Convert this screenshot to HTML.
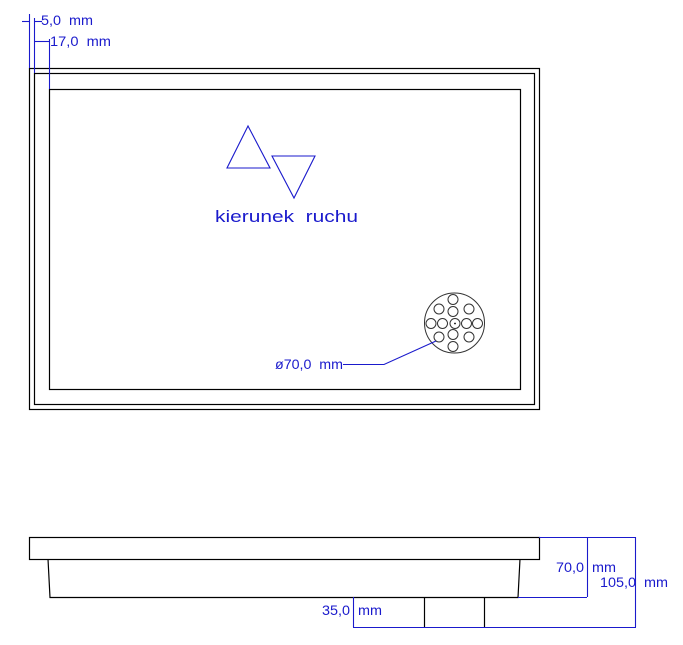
<!DOCTYPE html>
<html><head><meta charset="utf-8"><style>html,body{margin:0;padding:0;background:#fff}svg{display:block}text{white-space:pre}</style></head>
<body>
<svg width="683" height="645" viewBox="0 0 683 645" xmlns="http://www.w3.org/2000/svg" font-family="Liberation Sans, sans-serif">
<g fill="none" stroke="#000" stroke-width="1.2">
<rect x="29.5" y="68.5" width="510" height="341"/>
<rect x="34.5" y="73.5" width="500" height="331"/>
<rect x="49.5" y="89.5" width="471" height="300"/>
<rect x="29.5" y="537.5" width="510" height="22"/>
<polyline points="48,559 50,597.5 518,597.5 520,559"/>
<line x1="424.5" y1="597" x2="424.5" y2="627"/>
<line x1="484.5" y1="597" x2="484.5" y2="627"/>
</g>
<g fill="none" stroke="#333" stroke-width="1">
<circle cx="454.5" cy="323" r="30"/>
<circle cx="453" cy="299.5" r="5"/>
<circle cx="439" cy="309" r="5"/><circle cx="453" cy="311.5" r="5"/><circle cx="469" cy="309" r="5"/>
<circle cx="431" cy="323.5" r="5"/><circle cx="442.5" cy="323.5" r="5"/><circle cx="455" cy="323.5" r="5"/><circle cx="466.5" cy="323.5" r="5"/><circle cx="477.5" cy="323.5" r="5"/>
<circle cx="439" cy="337" r="5"/><circle cx="453" cy="334.5" r="5"/><circle cx="469" cy="337" r="5"/>
<circle cx="453" cy="346.5" r="5"/>
</g>
<circle cx="455" cy="323.5" r="0.9" fill="#000"/>
<g fill="none" stroke="#1a1acc" stroke-width="1.1">
<polygon points="248,126 227,168 270,168"/>
<polygon points="272,156 315,156 294,198"/>
<polyline points="343,364.5 384,364.5 436,341"/>
<line x1="29.5" y1="14" x2="29.5" y2="68"/>
<line x1="34.5" y1="18" x2="34.5" y2="73"/>
<line x1="22" y1="21.5" x2="29" y2="21.5"/>
<line x1="34.5" y1="21.5" x2="42" y2="21.5"/>
<line x1="34.5" y1="41.5" x2="49" y2="41.5"/>
<line x1="49.5" y1="39" x2="49.5" y2="89"/>
<line x1="539" y1="537.5" x2="636" y2="537.5"/>
<line x1="518" y1="597.5" x2="587" y2="597.5"/>
<line x1="353" y1="627.5" x2="636" y2="627.5"/>
<line x1="587.5" y1="537" x2="587.5" y2="597"/>
<line x1="635.5" y1="537" x2="635.5" y2="627"/>
<line x1="353.5" y1="597" x2="353.5" y2="627"/>
</g>
<g fill="#1a1acc" font-size="14">
<text x="41" y="25" textLength="52" lengthAdjust="spacingAndGlyphs">5,0  mm</text>
<text x="50" y="46" textLength="61" lengthAdjust="spacingAndGlyphs">17,0  mm</text>
<text x="275" y="369" textLength="68" lengthAdjust="spacingAndGlyphs">ø70,0  mm</text>
<text x="322" y="615" textLength="60" lengthAdjust="spacingAndGlyphs">35,0  mm</text>
<text x="556" y="572" textLength="60" lengthAdjust="spacingAndGlyphs">70,0  mm</text>
<text x="600" y="587" textLength="68" lengthAdjust="spacingAndGlyphs">105,0  mm</text>
<text x="215" y="222" font-size="17" textLength="143" lengthAdjust="spacingAndGlyphs">kierunek  ruchu</text>
</g>
</svg>
</body></html>
